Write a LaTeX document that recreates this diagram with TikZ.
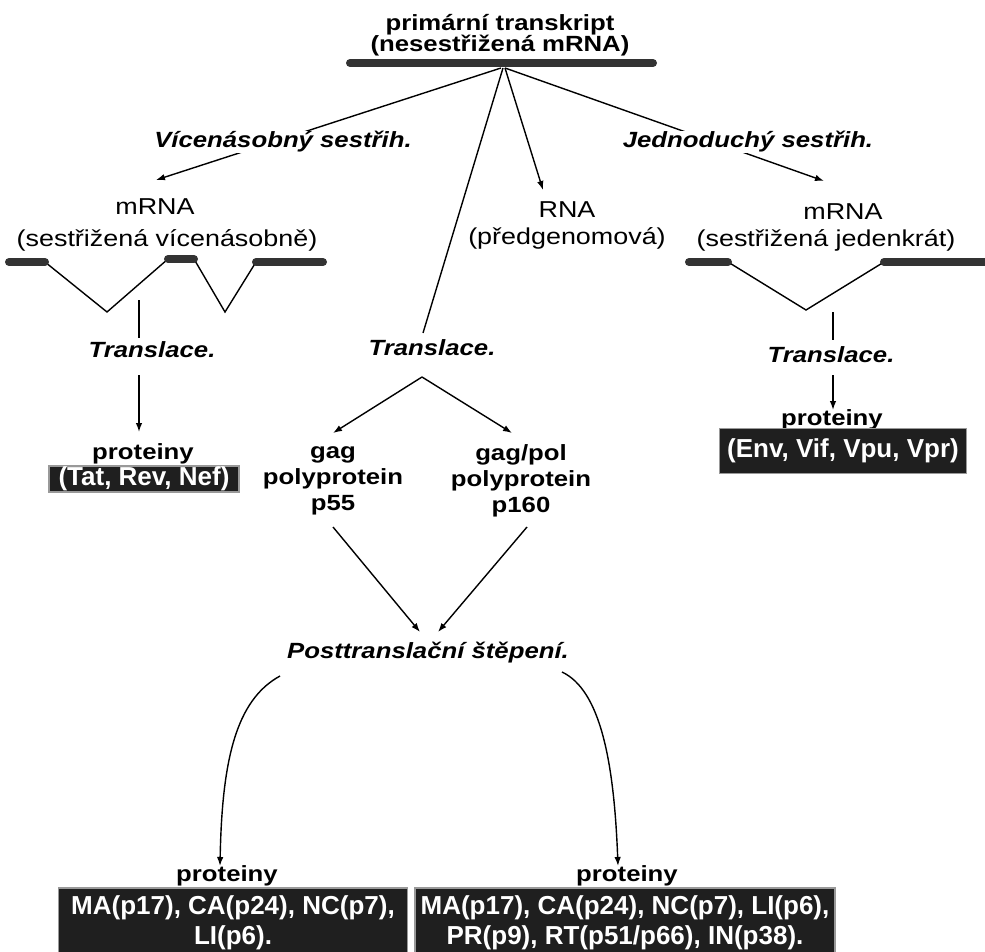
\documentclass[tikz,border=0pt]{standalone}
\usepackage{fontspec}
\usetikzlibrary{arrows.meta}
\newfontfamily\labfont[FakeStretch=1.17]{Liberation Sans}
\newfontfamily\boxfont{Liberation Sans}
\tikzset{
  rg/.style={font=\labfont\fontsize{23}{28}\selectfont, inner sep=1pt, align=center},
  bt/.style={font=\labfont\bfseries\fontsize{22}{26}\selectfont, inner sep=1pt, align=center},
  itl/.style={font=\labfont\bfseries\itshape\fontsize{22}{26}\selectfont, inner sep=1pt},
  cover/.style={fill=white},
  ln/.style={line width=1.4pt, line join=miter},
  arr/.style={ln, -{Latex[length=9pt,width=6.5pt]}},
  exon/.style={line width=8pt, line cap=round, draw=black!80},
  pbox/.style={fill=black!88, draw=black!40, line width=1.6pt, text=white,
    font=\boxfont\bfseries\fontsize{26}{30}\selectfont, align=center,
    inner sep=0pt, anchor=center}
}
\begin{document}
\begin{tikzpicture}[x=1pt,y=-1pt]
\useasboundingbox (0,0) rectangle (985,952);

% ---- primary transcript ----
\node[bt, font=\labfont\bfseries\fontsize{22}{21}\selectfont] (title) at (500,35) {primární transkript\\(nesestřižená mRNA)};
\coordinate (barL) at (350,63);
\coordinate (barR) at (653,63);
\draw[exon] (barL) -- (barR);
\coordinate (hubL) at (501,68);
\coordinate (hubM) at (503,68);
\coordinate (hubR) at (505,68);

% ---- branches from the transcript ----
\coordinate (tipMulti) at (156,180);
\coordinate (tipSingle) at (824,181);
\coordinate (tipRNA) at (543,190);
\coordinate (endTr) at (423,333);
\draw[arr] (hubL) -- (tipMulti);
\draw[arr] (hubR) -- (tipSingle);
\draw[arr] (hubR) -- (tipRNA);
\draw[ln] (hubM) -- (endTr);
\node[itl, cover] (multi) at (283,142) {Vícenásobný sestřih.};
\node[itl, cover] (single) at (748,142) {Jednoduchý sestřih.};

% ---- multiply spliced mRNA ----
\node[rg] (mL1) at (155,207) {mRNA};
\node[rg] (mL2) at (167,240) {(sestřižená vícenásobně)};
\coordinate (eL1a) at (9,262);  \coordinate (eL1b) at (45,262);
\coordinate (eL2a) at (168,259); \coordinate (eL2b) at (194,259);
\coordinate (eL3a) at (256,262); \coordinate (eL3b) at (323,262);
\coordinate (vL1) at (107,312);
\coordinate (vL2) at (225,312);
\draw[ln] (eL1b) -- (vL1) -- (eL2a);
\draw[ln] (eL2b) -- (vL2) -- (eL3a);
\draw[exon] (eL1a) -- (eL1b);
\draw[exon] (eL2a) -- (eL2b);
\draw[exon] (eL3a) -- (eL3b);
\node[itl] (trL) at (152,350) {Translace.};
\coordinate (sL1) at (139,300); \coordinate (sL2) at (139,338);
\coordinate (sL3) at (139,375); \coordinate (tipPL) at (139,432);
\draw[ln] (sL1) -- (sL2);
\draw[arr] (sL3) -- (tipPL);
\node[bt] (protL) at (143,454) {proteiny};
\node[pbox, minimum width=190pt, minimum height=26pt] (boxL) at (144,479) {(Tat, Rev, Nef)};

% ---- pregenomic RNA ----
\node[rg] (rna1) at (567,210) {RNA};
\node[rg] (rna2) at (567,238) {(předgenomová)};

% ---- singly spliced mRNA ----
\node[rg] (mR1) at (843,212) {mRNA};
\node[rg] (mR2) at (826,240) {(sestřižená jedenkrát)};
\coordinate (eR1a) at (689,262); \coordinate (eR1b) at (728,262);
\coordinate (eR2a) at (884,262); \coordinate (eR2b) at (992,262);
\coordinate (vR) at (806,310);
\draw[ln] (eR1b) -- (vR) -- (eR2a);
\draw[exon] (eR1a) -- (eR1b);
\draw[exon] (eR2a) -- (eR2b);
\node[itl] (trR) at (831,355) {Translace.};
\coordinate (sR1) at (833,312); \coordinate (sR2) at (833,340);
\coordinate (sR3) at (833,375); \coordinate (tipPR) at (833,410);
\draw[ln] (sR1) -- (sR2);
\draw[arr] (sR3) -- (tipPR);
\node[bt] (protR) at (832,420) {proteiny};
\node[pbox, minimum width=247pt, minimum height=45pt] (boxR) at (843,451) {(Env, Vif, Vpu, Vpr)};

% ---- unspliced RNA: translation ----
\node[itl] (trC) at (432,348) {Translace.};
\coordinate (splitC) at (422,377);
\coordinate (tipGag) at (333,433);
\coordinate (tipPol) at (512,433);
\draw[arr] (splitC) -- (tipGag);
\draw[arr] (splitC) -- (tipPol);
\node[bt] (gag) at (333,481) {gag\\polyprotein\\p55};
\node[bt] (gagpol) at (521,481) {gag/pol\\polyprotein\\p160};
\coordinate (gagB) at (333,527);
\coordinate (polB) at (527,527);
\coordinate (tipC1) at (420,632);
\coordinate (tipC2) at (438,632);
\draw[arr] (gagB) -- (tipC1);
\draw[arr] (polB) -- (tipC2);
\node[itl] (post) at (428,653) {Posttranslační štěpení.};

% ---- cleavage products ----
\coordinate (cL0) at (280,676);
\coordinate (cR0) at (562,672);
\coordinate (tipBL) at (220,866);
\coordinate (tipBR) at (618,866);
\draw[arr] (cL0) .. controls (236,700) and (222,760) .. (tipBL);
\draw[arr] (cR0) .. controls (600,690) and (614,760) .. (tipBR);
\node[bt] (protBL) at (227,876) {proteiny};
\node[bt] (protBR) at (627,876) {proteiny};
\node[pbox, minimum width=349pt, minimum height=70pt] (boxBL) at (233,923) {MA(p17), CA(p24), NC(p7),\\LI(p6).};
\node[pbox, minimum width=420pt, minimum height=70pt] (boxBR) at (625,923) {MA(p17), CA(p24), NC(p7), LI(p6),\\PR(p9), RT(p51/p66), IN(p38).};
\end{tikzpicture}
\end{document}
